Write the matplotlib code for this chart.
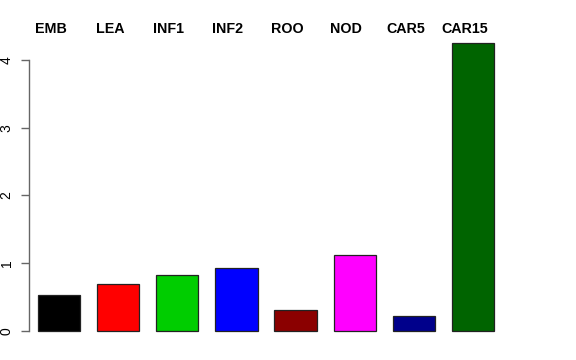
import numpy as np
import matplotlib
matplotlib.use("Agg")
import matplotlib.pyplot as plt
import matplotlib.transforms as mtransforms

plt.rcParams['font.family'] = ['Liberation Sans', 'DejaVu Sans']

# tissue labels and their values
tissues = ["EMB", "LEA", "INF1", "INF2", "ROO", "NOD", "CAR5", "CAR15"]
values = [0.53, 0.70, 0.83, 0.925, 0.305, 1.125, 0.217, 4.255]
colors = ["#000000", "#ff0000", "#00cd00", "#0000ff",
          "#8b0000", "#ff00ff", "#00008b", "#006400"]

# R style barplot: width 1, space 0.4
width = 1.0
space = 0.4
lefts = space + np.arange(len(values)) * (width + space)
centers = lefts + width / 2

fig = plt.figure(figsize=(5.76, 3.6), dpi=100)
ax = fig.add_axes([29 / 576, 17.5 / 360, 474 / 576, 311.3 / 360])

ax.bar(centers, values, width=width, color=colors, edgecolor="#222222", linewidth=0.9)

ax.set_xlim(0.187, 11.413)
ax.set_ylim(-0.17, 4.425)

for s in ["top", "right", "bottom"]:
    ax.spines[s].set_visible(False)
ax.spines["left"].set_bounds(0, 4)
ax.spines["left"].set_color("#666666")
ax.spines["left"].set_linewidth(1.0)

ax.set_xticks([])
ax.set_yticks([0, 1, 2, 3, 4])
ax.set_yticklabels(["0", "1", "2", "3", "4"], rotation=90, va="center", fontsize=10)
ax.tick_params(axis="y", length=5.5, width=1.0, color="#666666", pad=5.5)

# bold tissue names above the bars
trans = mtransforms.blended_transform_factory(ax.transData, fig.transFigure)
for c, name in zip(centers, tissues):
    ax.text(c - 0.2, 1 - 29 / 360, name, transform=trans, ha="center", va="center",
            fontsize=10.3, fontweight="bold", clip_on=False)

fig.savefig("out.png", dpi=100)
